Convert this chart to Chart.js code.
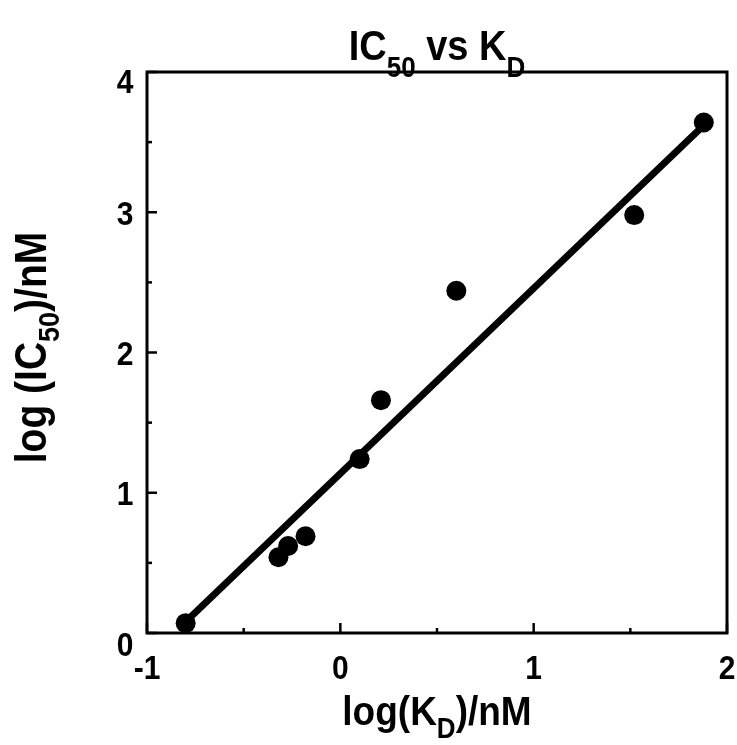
<!DOCTYPE html>
<html lang="en">
<head>
    <meta charset="UTF-8">
    <title>IC50 vs KD</title>
    <script src="https://cdn.jsdelivr.net/npm/chart.js"></script>
    <style>
        html, body { margin: 0; padding: 0; background: #fff; }
        #wrap { width: 737px; height: 745px; }
    </style>
</head>
<body>
    <div id="wrap"><canvas id="ic50Chart"></canvas></div>

    <script>
        // measured points: log(KD) vs log(IC50)
        const kdLog = [-0.80, -0.32, -0.27, -0.18, 0.10, 0.21, 0.60, 1.52, 1.88];
        const ic50Log = [0.07, 0.54, 0.62, 0.69, 1.24, 1.66, 2.44, 2.98, 3.64];

        // fitted line endpoints
        const fitX = [-0.80, 1.88];
        const fitY = [0.08, 3.62];

        const xTicks = [-1, 0, 1, 2];
        const yTicks = [0, 1, 2, 3, 4];

        const FONT = '"Liberation Sans", Arial, sans-serif';
        const STRETCH = 1.12; // reference text is a bit taller than Arial

        function runsWidth(ctx, runs, big, small) {
            let w = 0;
            runs.forEach(r => {
                ctx.font = 'bold ' + (r.sub ? small : big) + 'px ' + FONT;
                w += ctx.measureText(r.t).width;
            });
            return w;
        }
        // text runs with subscripts, x/y = left baseline
        function drawRuns(ctx, runs, x, y, big, small, subDrop) {
            ctx.save();
            ctx.translate(x, y);
            ctx.scale(1, STRETCH);
            let cx = 0;
            runs.forEach(r => {
                ctx.font = 'bold ' + (r.sub ? small : big) + 'px ' + FONT;
                ctx.fillText(r.t, cx, r.sub ? subDrop / STRETCH : 0);
                cx += ctx.measureText(r.t).width;
            });
            ctx.restore();
        }
        function drawLabel(ctx, text, x, y) {
            ctx.save();
            ctx.translate(x, y);
            ctx.scale(1, STRETCH);
            ctx.fillText(text, 0, 0);
            ctx.restore();
        }

        const framePlugin = {
            id: 'frame',
            afterDraw(chart) {
                const ctx = chart.ctx;
                const a = chart.chartArea;
                const xs = chart.scales.x;
                const ys = chart.scales.y;
                ctx.save();
                ctx.fillStyle = '#000';
                ctx.strokeStyle = '#000';

                // frame
                ctx.lineWidth = 3;
                ctx.strokeRect(a.left, a.top, a.right - a.left, a.bottom - a.top);

                // inward ticks, major + minor
                ctx.lineWidth = 2.5;
                for (let v = -1; v <= 2.001; v += 0.5) {
                    const px = xs.getPixelForValue(v);
                    const len = Number.isInteger(v) ? 10 : 5;
                    ctx.beginPath();
                    ctx.moveTo(px, a.bottom);
                    ctx.lineTo(px, a.bottom - len);
                    ctx.stroke();
                }
                for (let v = 0; v <= 4.001; v += 0.5) {
                    const py = ys.getPixelForValue(v);
                    const len = Number.isInteger(v) ? 10 : 5;
                    ctx.beginPath();
                    ctx.moveTo(a.left, py);
                    ctx.lineTo(a.left + len, py);
                    ctx.stroke();
                }

                // tick labels
                ctx.font = 'bold 30px ' + FONT;
                ctx.textAlign = 'center';
                ctx.textBaseline = 'middle';
                xTicks.forEach(v => {
                    drawLabel(ctx, String(v), xs.getPixelForValue(v), a.bottom + 37);
                });
                yTicks.forEach(v => {
                    let dy = 3;
                    if (v === 4) dy = 12;
                    if (v === 0) dy = 14;
                    drawLabel(ctx, String(v), a.left - 22, ys.getPixelForValue(v) + dy);
                });

                // chart title
                ctx.textAlign = 'left';
                ctx.textBaseline = 'alphabetic';
                const cx = (a.left + a.right) / 2;
                const title = [{t: 'IC'}, {t: '50', sub: true}, {t: ' vs K'}, {t: 'D', sub: true}];
                let w = runsWidth(ctx, title, 38, 26);
                drawRuns(ctx, title, cx - w / 2, 60, 38, 26, 17);

                // x axis title
                const xt = [{t: 'log(K'}, {t: 'D', sub: true}, {t: ')/nM'}];
                w = runsWidth(ctx, xt, 37, 26);
                drawRuns(ctx, xt, cx - w / 2, 725, 37, 26, 13);

                // y axis title, rotated
                const yt = [{t: 'log (IC'}, {t: '50', sub: true}, {t: ')/nM'}];
                ctx.translate(46, (a.top + a.bottom) / 2 - 5);
                ctx.rotate(-Math.PI / 2);
                w = runsWidth(ctx, yt, 39, 27);
                drawRuns(ctx, yt, -w / 2, 0, 39, 27, 13);

                ctx.restore();
            }
        };

        new Chart(document.getElementById('ic50Chart'), {
            type: 'scatter',
            data: {
                datasets: [
                    {
                        label: 'fit',
                        type: 'line',
                        data: fitX.map((x, i) => ({x: x, y: fitY[i]})),
                        borderColor: '#000',
                        borderWidth: 7,
                        pointRadius: 0,
                        fill: false,
                        clip: false
                    },
                    {
                        label: 'data',
                        data: kdLog.map((x, i) => ({x: x, y: ic50Log[i]})),
                        backgroundColor: '#000',
                        borderWidth: 0,
                        pointRadius: 10,
                        pointHoverRadius: 10,
                        clip: false
                    }
                ]
            },
            options: {
                responsive: true,
                maintainAspectRatio: false,
                animation: false,
                events: [],
                layout: {
                    padding: {left: 147, right: 9, top: 72, bottom: 112}
                },
                plugins: {
                    legend: {display: false},
                    title: {display: false},
                    tooltip: {enabled: false}
                },
                scales: {
                    x: {
                        type: 'linear',
                        min: -1,
                        max: 2,
                        grid: {display: false, drawTicks: false},
                        border: {display: false},
                        ticks: {display: false, stepSize: 1}
                    },
                    y: {
                        type: 'linear',
                        min: 0,
                        max: 4,
                        grid: {display: false, drawTicks: false},
                        border: {display: false},
                        ticks: {display: false, stepSize: 1}
                    }
                }
            },
            plugins: [framePlugin]
        });
    </script>
</body>
</html>
